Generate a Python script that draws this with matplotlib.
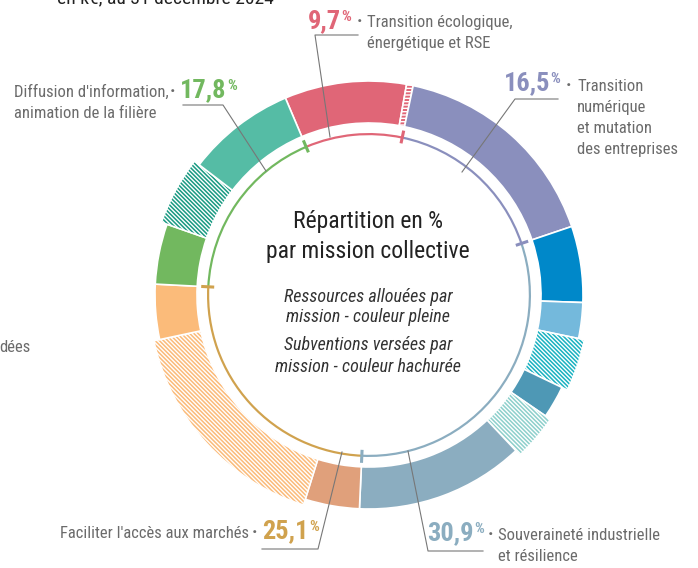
import matplotlib
matplotlib.use("Agg")
import matplotlib.pyplot as plt
from matplotlib import font_manager
import numpy as np

names = {f.name for f in font_manager.fontManager.ttflist}
condensed = [n for n in ['Roboto Condensed', 'Liberation Sans Narrow', 'Open Sans Condensed'] if n in names]
plt.rcParams['font.family'] = condensed + ['Roboto', 'DejaVu Sans']
K = 1.0 if condensed else 0.9   # shrink text if no narrow face is around

plt.rcParams['hatch.color'] = 'white'
plt.rcParams['hatch.linewidth'] = 1.0

# outer ring : sub-segments, clockwise from the top (share of total, %)
seg_values = [9.2, 0.5, 16.5, 5.75, 2.7, 3.85, 2.45, 3.4, 12.75, 4.1, 16.85, 4.15, 4.55, 5.05, 8.2]
seg_colors = ['#e06677', '#e06677', '#8a8fbd', '#0088c9', '#74b9dc', '#1ab2c1', '#4e98b5',
              '#8ed0cc', '#8badc0', '#e0a07b', '#fbbb7a', '#fbbb7a', '#72b85f', '#1a9a82', '#55bca5']
seg_hatch = ['', '-----', '', '', '', '\\' * 8, '', '\\' * 8, '', '', '\\' * 8, '', '', '\\' * 8, '']

# inner thin ring : missions collectives
mission_names = [['Transition écologique,', 'énergétique et RSE'],
                 ['Transition', 'numérique', 'et mutation', 'des entreprises'],
                 ['Souveraineté industrielle', 'et résilience'],
                 ["Faciliter l'accès aux marchés"],
                 ["Diffusion d'information,", 'animation de la filière']]
mission_pct = [9.7, 16.5, 30.9, 25.1, 17.8]
mission_colors = ['#e06677', '#8a8fbd', '#8badc0', '#d0a24e', '#72b85f']

GREY = '#6b6b6b'
CX, CY = 369, 295
START = -113  # y axis is flipped, so counterclock=True runs clockwise on screen

fig = plt.figure(figsize=(6.98, 5.68), dpi=100)
ax = fig.add_axes([0, 0, 1, 1])

wedges, _ = ax.pie(seg_values, colors=seg_colors, startangle=START, counterclock=True,
                   radius=214, center=(CX, CY),
                   wedgeprops=dict(width=42, edgecolor='white', linewidth=1.2))
for w, h in zip(wedges, seg_hatch):
    if h:
        w.set_hatch(h)
        if h[0] == '\\':
            w.set_radius(220)
            w.set_width(48)

# thin ring with ticks between missions
ax.pie(mission_pct, colors=mission_colors, startangle=START, counterclock=True,
       radius=162, center=(CX, CY), wedgeprops=dict(width=2.2, linewidth=0))
cum = np.cumsum(mission_pct)
for c, col in zip(cum, mission_colors):
    a = np.deg2rad(START + 3.6 * c)
    ax.plot([CX + 155 * np.cos(a), CX + 168 * np.cos(a)],
            [CY + 155 * np.sin(a), CY + 168 * np.sin(a)], color=col, lw=2.2, solid_capstyle='butt')

#leader lines
leaders = [[(358, 35), (315, 35), (330, 137)],
           [(558, 99), (515, 99), (462, 172)],
           [(183, 105), (223, 105), (266, 171)],
           [(262, 549), (318, 549), (342, 452)],
           [(483, 551), (428, 551), (408, 451)]]
for pts in leaders:
    xs, ys = zip(*pts)
    ax.plot(xs, ys, color='#777777', lw=0.8, zorder=5)

# labels: (number anchor x, number align, number baseline, bullet x, text x, first baseline)
label_pos = [(341, 'right', 28, 360, 367, 27),
             (550, 'right', 90, 569, 577, 91),
             (474, 'right', 540, 491, 498, 540),
             (262, 'left', 538, 255, 60, 538),
             (180, 'left', 97, 173, 14, 97)]
for name, pct, col, (nx, nha, ny, bx, tx, ty) in zip(mission_names, mission_pct, mission_colors, label_pos):
    num = ax.text(nx, ny, f'{pct:.1f}'.replace('.', ','), ha=nha, va='baseline',
                  fontsize=19 * K, fontweight='bold', color=col)
    ax.annotate('%', xy=(1, 1), xycoords=num, xytext=(0.3, -1), textcoords='offset points',
                ha='left', va='top', fontsize=11 * K, fontweight='bold', color=col)
    ax.text(bx, ty, '·', ha='center', va='baseline', fontsize=14, fontweight='bold', color=GREY)
    for i, line in enumerate(name):
        ax.text(tx, ty + 21 * i, line, ha='left', va='baseline', fontsize=12 * K, color=GREY)

# centre text
ax.text(368, 228, 'Répartition en %', ha='center', va='baseline', fontsize=17 * K, color='#222222')
ax.text(368, 258, 'par mission collective', ha='center', va='baseline', fontsize=17 * K, color='#222222')
for y, s in zip([302, 322, 350, 372], ['Ressources allouées par', 'mission - couleur pleine',
                                       'Subventions versées par', 'mission - couleur hachurée']):
    ax.text(368, y, s, ha='center', va='baseline', fontsize=13 * K, style='italic', color='#333333')

# cropped bits of the page
ax.text(165, 3, 'en k€, au 31 décembre 2024', ha='center', va='baseline', fontsize=14 * K, color='#222222')
ax.text(-1, 352, 'dées', ha='left', va='baseline', fontsize=12 * K, color=GREY)

ax.set_xlim(0, 698)
ax.set_ylim(568, 0)
ax.set_aspect('equal')
ax.axis('off')

fig.savefig('out.png', dpi=100)
